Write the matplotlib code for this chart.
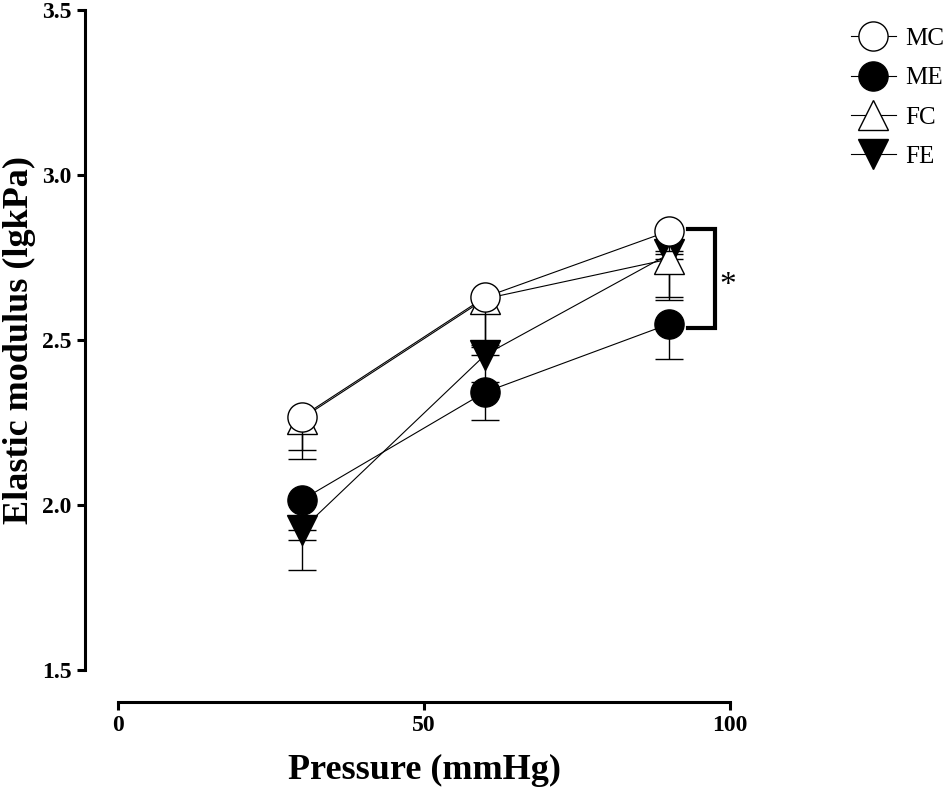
import matplotlib.pyplot as plt

pressure = [30, 60, 90]
groups = ["MC", "ME", "FC", "FE"]
mc_mean = [2.267, 2.630, 2.830]
mc_sem = [0.100, 0.150, 0.060]
me_mean = [2.015, 2.342, 2.548]
me_sem = [0.120, 0.085, 0.105]
fc_mean = [2.262, 2.625, 2.745]
fc_sem = [0.122, 0.140, 0.125]
fe_mean = [1.925, 2.455, 2.760]
fe_sem = [0.122, 0.082, 0.130]

plt.rcParams['font.family'] = ['Liberation Serif', 'DejaVu Serif']

fig = plt.figure(figsize=(9.5, 7.93), dpi=100)
ax = fig.add_axes([118/950, (793-670)/793, (730-118)/950, 660/793])

styles = {
    "FE": dict(marker="v", mfc="black", mec="black"),
    "FC": dict(marker="^", mfc="white", mec="black"),
    "ME": dict(marker="o", mfc="black", mec="black"),
    "MC": dict(marker="o", mfc="white", mec="black"),
}
data = {"MC": (mc_mean, mc_sem), "ME": (me_mean, me_sem),
        "FC": (fc_mean, fc_sem), "FE": (fe_mean, fe_sem)}

handles = {}
for i, g in enumerate(["FE", "FC", "ME", "MC"]):
    m, s = data[g]
    ax.errorbar(pressure, m, yerr=[s, [0]*3], fmt="none", ecolor="black",
                elinewidth=1.0, capsize=10, capthick=1.0, zorder=2+i)
    h, = ax.plot(pressure, m, color="black", lw=0.8, ms=21, mew=1.0,
                 zorder=3+i, **styles[g])
    handles[g] = h

ax.set_xlim(0, 100)
ax.set_ylim(1.5, 3.5)
ax.set_xticks([0, 50, 100])
ax.set_yticks([1.5, 2.0, 2.5, 3.0, 3.5])
ax.set_yticklabels(["1.5", "2.0", "2.5", "3.0", "3.5"])
for sp in ["top", "right"]:
    ax.spines[sp].set_visible(False)
ax.spines['left'].set_position(('outward', 24))
ax.spines['bottom'].set_position(('outward', 23))
ax.spines['left'].set_linewidth(2.2)
ax.spines['bottom'].set_linewidth(2.2)
ax.tick_params(width=2.2, length=6, labelsize=17)
for lab in ax.get_xticklabels() + ax.get_yticklabels():
    lab.set_fontweight("bold")
ax.set_xlabel("Pressure (mmHg)", fontsize=26, fontweight="bold", labelpad=13)
ax.set_ylabel("Elastic modulus (lgkPa)", fontsize=26, fontweight="bold", labelpad=4)

# significance bracket
ax.plot([93.1, 97.5, 97.5, 93.1], [mc_mean[2] + 0.005, mc_mean[2] + 0.005,
                                   me_mean[2] - 0.012, me_mean[2] - 0.012],
        color="black", lw=3, clip_on=False, solid_joinstyle="miter")
ax.text(98.2, (mc_mean[2] + me_mean[2]) / 2 - 0.025, "*", fontsize=24,
        ha="left", va="center")

fig.legend([handles[g] for g in groups], groups, loc="upper left",
           bbox_to_anchor=(828/950, 1 - 5/793), frameon=False, fontsize=18,
           handlelength=1.8, labelspacing=0.67, handletextpad=0.4)

fig.savefig("out.png", dpi=100)
